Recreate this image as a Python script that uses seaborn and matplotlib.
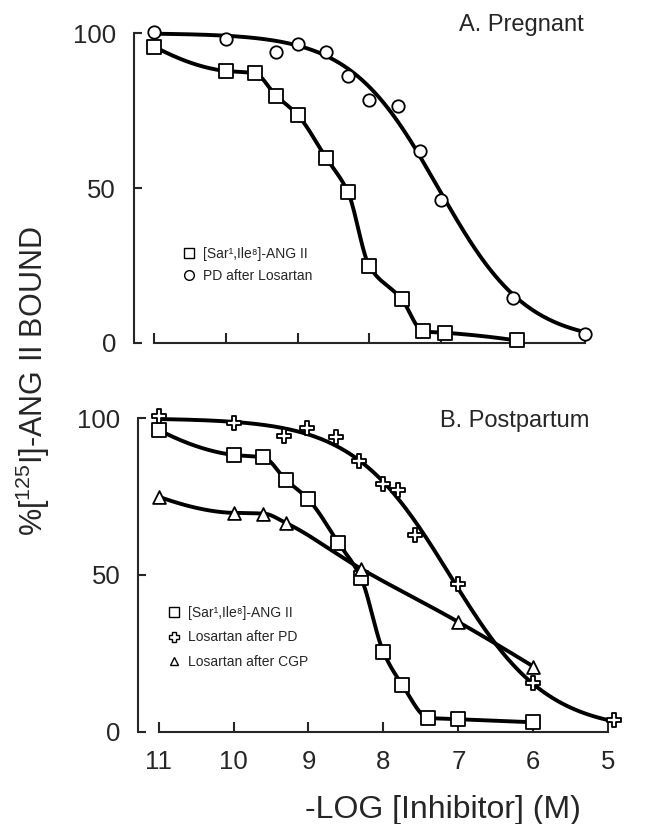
import numpy as np
import pandas as pd
import matplotlib
matplotlib.use("Agg")
import matplotlib.pyplot as plt
from matplotlib.lines import Line2D
import seaborn as sns

# ---------------- data ----------------
# Panel A. Pregnant
a_sar_x = [11, 10, 9.6, 9.3, 9.0, 8.6, 8.3, 8.0, 7.55, 7.25, 6.95, 5.95]
a_sar_y = [95.7, 87.8, 87.1, 79.8, 73.6, 59.6, 48.7, 24.7, 14.1, 3.7, 3.3, 0.8]
a_pd_x = [11, 10, 9.3, 9.0, 8.6, 8.3, 8.0, 7.6, 7.3, 7.0, 6.0, 5.0]
a_pd_y = [100.5, 98.1, 93.8, 96.4, 93.9, 86.2, 78.5, 76.5, 62.0, 46.2, 14.6, 2.9]

# Panel B. Postpartum
b_sar_x = [11, 10, 9.6, 9.3, 9.0, 8.6, 8.3, 8.0, 7.75, 7.4, 7.0, 6.0]
b_sar_y = [96.3, 88.3, 87.5, 80.3, 74.1, 60.2, 49.1, 25.4, 15.0, 4.4, 4.0, 3.0]
b_pd_x = [11, 10, 9.33, 9.02, 8.63, 8.32, 8.01, 7.8, 7.58, 7.0, 6.0, 4.93]
b_pd_y = [100.7, 98.6, 94.3, 97.0, 94.1, 86.4, 79.0, 77.1, 62.7, 47.0, 15.6, 3.7]
b_cgp_x = [11, 10, 9.6, 9.3, 8.3, 7.0, 6.0]
b_cgp_y = [75.0, 69.8, 69.6, 66.6, 52.0, 35.0, 20.8]

x_ticks = [11, 10, 9, 8, 7, 6, 5]
y_ticks = [0, 50, 100]
lab_sar = "[Sar\u00b9,Ile\u2078]-ANG II"
lab_a_pd = "PD after Losartan"
lab_b_pd = "Losartan after PD"
lab_b_cgp = "Losartan after CGP"


# ---------------- curve helpers ----------------
def pchip(x, y, xn):
    order = np.argsort(x)
    x = np.asarray(x, float)[order]
    y = np.asarray(y, float)[order]
    h = np.diff(x)
    d = np.diff(y) / h
    n = len(x)
    m = np.zeros(n)
    for k in range(1, n - 1):
        if d[k - 1] * d[k] > 0:
            w1 = 2 * h[k] + h[k - 1]
            w2 = h[k] + 2 * h[k - 1]
            m[k] = (w1 + w2) / (w1 / d[k - 1] + w2 / d[k])
    def end(h0, h1, d0, d1):
        v = ((2 * h0 + h1) * d0 - h0 * d1) / (h0 + h1)
        if np.sign(v) != np.sign(d0):
            v = 0.0
        elif np.sign(d0) != np.sign(d1) and abs(v) > abs(3 * d0):
            v = 3 * d0
        return v
    m[0] = end(h[0], h[1], d[0], d[1])
    m[-1] = end(h[-1], h[-2], d[-1], d[-2])
    xn = np.asarray(xn, float)
    idx = np.clip(np.searchsorted(x, xn) - 1, 0, n - 2)
    t = (xn - x[idx]) / h[idx]
    h00 = 2 * t**3 - 3 * t**2 + 1
    h10 = t**3 - 2 * t**2 + t
    h01 = -2 * t**3 + 3 * t**2
    h11 = t**3 - t**2
    return h00 * y[idx] + h10 * h[idx] * m[idx] + h01 * y[idx + 1] + h11 * h[idx] * m[idx + 1]


def hill_fit(x, y, top=100.0):
    """Least-squares one-site competition curve (top fixed, bottom 0)."""
    x = np.asarray(x, float)
    y = np.asarray(y, float)
    P = np.arange(6.0, 8.0, 0.005)[:, None, None]
    N = np.arange(0.3, 1.5, 0.005)[None, :, None]
    pred = top / (1 + 10 ** (N * (P - x[None, None, :])))
    sse = ((pred - y) ** 2).sum(-1)
    i, j = np.unravel_index(np.argmin(sse), sse.shape)
    p, n = P.ravel()[i], N.ravel()[j]
    return lambda xx: top / (1 + 10 ** (n * (p - np.asarray(xx, float))))


# ---------------- style ----------------
sns.set_style("ticks")
plt.rcParams["font.family"] = ["Liberation Sans", "DejaVu Sans"]
plt.rcParams["mathtext.fontset"] = "custom"
plt.rcParams["mathtext.rm"] = "Liberation Sans"

W, H = 649, 824
fig = plt.figure(figsize=(W / 100, H / 100), dpi=100)

def fx(px):
    return px / W

def fy(py):
    return 1 - py / H

axA = fig.add_axes([fx(134), fy(347.6), 455.9 / W, 327.7 / H])
axB = fig.add_axes([fx(138.3), fy(736.4), 479.0 / W, 333.8 / H])

LW = 2.8
EW = 1.3

# ---- Panel A ----
xs = np.linspace(5.95, 11, 300)
dfA1 = pd.DataFrame({"x": xs, "y": pchip(a_sar_x, a_sar_y, xs)})
fA = hill_fit(a_pd_x, a_pd_y)
xs2 = np.linspace(5.0, 11, 300)
dfA2 = pd.DataFrame({"x": xs2, "y": fA(xs2)})
sns.lineplot(data=dfA1, x="x", y="y", ax=axA, color="black", lw=LW, estimator=None)
sns.lineplot(data=dfA2, x="x", y="y", ax=axA, color="black", lw=LW, estimator=None)
sns.scatterplot(x=a_sar_x, y=a_sar_y, ax=axA, marker="s", s=95, facecolor="white",
                edgecolor="black", linewidth=EW, zorder=4, clip_on=False)
sns.scatterplot(x=a_pd_x, y=a_pd_y, ax=axA, marker="o", s=80, facecolor="white",
                edgecolor="black", linewidth=EW, zorder=4, clip_on=False)

# ---- Panel B ----
xs = np.linspace(6.0, 11, 300)
dfB1 = pd.DataFrame({"x": xs, "y": pchip(b_sar_x, b_sar_y, xs)})
fB = hill_fit(b_pd_x, b_pd_y)
xs3 = np.linspace(4.93, 11, 300)
dfB2 = pd.DataFrame({"x": xs3, "y": fB(xs3)})
xs4 = np.linspace(6.0, 11, 300)
dfB3 = pd.DataFrame({"x": xs4, "y": pchip(b_cgp_x, b_cgp_y, xs4)})
for d in (dfB1, dfB2, dfB3):
    sns.lineplot(data=d, x="x", y="y", ax=axB, color="black", lw=LW, estimator=None)
sns.scatterplot(x=b_sar_x, y=b_sar_y, ax=axB, marker="s", s=95, facecolor="white",
                edgecolor="black", linewidth=EW, zorder=4, clip_on=False)
sns.scatterplot(x=b_pd_x, y=b_pd_y, ax=axB, marker="P", s=95, facecolor="white",
                edgecolor="black", linewidth=EW, zorder=4, clip_on=False)
sns.scatterplot(x=b_cgp_x, y=b_cgp_y, ax=axB, marker="^", s=85, facecolor="white",
                edgecolor="black", linewidth=EW, zorder=4, clip_on=False)

# ---- axes styling ----
for ax, xl, yl in ((axA, (11.28, 4.93), (-1.5, 104.3)), (axB, (11.27, 4.88), (-1.5, 105.0))):
    ax.set_xlim(*xl)
    ax.set_ylim(*yl)
    ax.set_xticks(x_ticks)
    ax.set_yticks(y_ticks)
    ax.set_xlabel("")
    ax.set_ylabel("")
    for s in ("top", "right"):
        ax.spines[s].set_visible(False)
    ax.spines["left"].set_bounds(0, 100)
    ax.spines["bottom"].set_bounds(5, 11)
    ax.spines["bottom"].set_position(("data", 0))
    ax.spines["left"].set_linewidth(1.5)
    ax.spines["bottom"].set_linewidth(1.5)
    ax.tick_params(axis="y", direction="in", length=6, width=1.5, pad=13, labelsize=18.5)
    ax.tick_params(axis="x", direction="in", length=7, width=1.5, pad=13, labelsize=18.5)
    ax.patch.set_alpha(0)

axA.tick_params(axis="x", labelbottom=False)

# ---- legends ----
def mk(marker, ms):
    return Line2D([], [], ls="none", marker=marker, ms=ms, mfc="white", mec="black", mew=1.0)

legA = axA.legend([mk("s", 7), mk("o", 7)], [lab_sar, lab_a_pd], loc="upper left",
                  bbox_to_anchor=(fx(183.5), fy(247)), bbox_transform=fig.transFigure,
                  frameon=False, borderpad=0, borderaxespad=0, handlelength=0.8,
                  handletextpad=0.6, labelspacing=0.55, fontsize=10)
legB = axB.legend([mk("s", 7), mk("P", 7), mk("^", 5.5)], [lab_sar, lab_b_pd, lab_b_cgp],
                  loc="upper left", bbox_to_anchor=(fx(168.5), fy(606)),
                  bbox_transform=fig.transFigure, frameon=False, borderpad=0, borderaxespad=0,
                  handlelength=0.8, handletextpad=0.6, labelspacing=0.75, fontsize=10)

# ---- titles and labels ----
fig.text(fx(459), fy(30.7), "A. Pregnant", fontsize=17, ha="left", va="baseline")
fig.text(fx(440), fy(427.3), "B. Postpartum", fontsize=17, ha="left", va="baseline")
fig.text(fx(443), fy(818), "-LOG [Inhibitor] (M)", fontsize=23, ha="center", va="baseline")
fig.text(fx(33), fy(381), r"%[$\mathregular{^{125}}$I]-ANG II BOUND", fontsize=22,
         rotation=90, ha="center", va="center")

fig.savefig("out.png", dpi=100)
